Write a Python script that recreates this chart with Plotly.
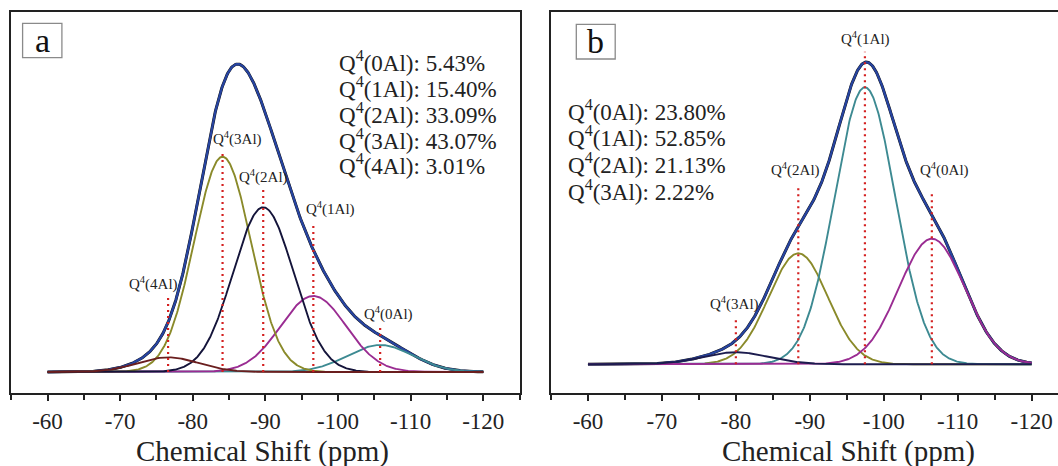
import numpy as np
import plotly.graph_objects as go

W, H = 1058, 466

# ---------------- data ----------------
tick_vals = [-60, -70, -80, -90, -100, -110, -120]
tick_text = ["-60", "-70", "-80", "-90", "-100", "-110", "-120"]
minor_vals = [-55, -65, -75, -85, -95, -105, -115, -125]

# panel a : Gaussian components (centre ppm, height a.u., sigma ppm)
a_names = ["Q<sup>4</sup>(0Al)", "Q<sup>4</sup>(1Al)", "Q<sup>4</sup>(2Al)",
           "Q<sup>4</sup>(3Al)", "Q<sup>4</sup>(4Al)"]
a_pct = ["5.43%", "15.40%", "33.09%", "43.07%", "3.01%"]
a_center = [-105.8, -96.6, -89.7, -84.1, -76.6]
a_height = [27.0, 76.0, 164.7, 215.3, 14.7]
a_sigma = [4.5, 4.5, 4.15, 3.9, 4.2]
a_marker_top = [46, 150, 186, 219, 74]
a_label_x = [-107.0, -98.9, -89.7, -86.1, -74.6]
a_label_y = [58.7, 163, 195.3, 233.7, 89]
a_colors = ["#3d8a92", "#9a2c92", "#14143a", "#8a8a2a", "#6a1e1e"]

# panel b
b_names = ["Q<sup>4</sup>(0Al)", "Q<sup>4</sup>(1Al)", "Q<sup>4</sup>(2Al)",
           "Q<sup>4</sup>(3Al)"]
b_pct = ["23.80%", "52.85%", "21.13%", "2.22%"]
b_center = [-106.5, -97.45, -88.44, -80.0]
b_height = [125.6, 277.0, 111.0, 12.0]
b_sigma = [4.47, 4.1, 4.0, 4.5]
b_marker_top = [172, 312.6, 178.6, 46]
b_label_x = [-108.2, -97.5, -88.1, -79.8]
b_label_y = [194.3, 325.3, 194.3, 61]
b_colors = ["#9a2c92", "#3d8a92", "#8a8a2a", "#1c1c4e"]

# ---------------- helpers ----------------
ppm = np.linspace(-60, -120, 721)
FONT = "Liberation Serif"
INK = "#222222"


def gauss(c, h, s):
    return h * np.exp(-((ppm - c) ** 2) / (2 * s * s))


def px(x):
    return x / W


def py(y):
    return 1 - y / H


fig = go.Figure()


def add_panel(xa, ya, centers, heights, sigmas, colors, tops, order):
    comps = [gauss(c, h, s) for c, h, s in zip(centers, heights, sigmas)]
    total = np.sum(comps, axis=0)
    fig.add_trace(go.Scatter(x=ppm, y=total, mode="lines", xaxis=xa, yaxis=ya,
                             line=dict(color="#111111", width=3.0), showlegend=False))
    fig.add_trace(go.Scatter(x=ppm, y=total, mode="lines", xaxis=xa, yaxis=ya,
                             line=dict(color="#2744a0", width=2.3), showlegend=False))
    for i in order:
        fig.add_trace(go.Scatter(x=ppm, y=comps[i], mode="lines", xaxis=xa, yaxis=ya,
                                 line=dict(color=colors[i], width=1.9), showlegend=False))
    for c, t in zip(centers, tops):
        fig.add_trace(go.Scatter(x=[c, c], y=[0, t], mode="lines", xaxis=xa, yaxis=ya,
                                 line=dict(color="#d42020", width=2.2, dash="2px,4px"),
                                 showlegend=False))


add_panel("x", "y", a_center, a_height, a_sigma, a_colors, a_marker_top, [0, 1, 3, 2, 4])
add_panel("x2", "y2", b_center, b_height, b_sigma, b_colors, b_marker_top, [2, 1, 0, 3])

ydom = [py(393), py(12)]
xcommon = dict(
    showline=True, linecolor=INK, linewidth=2, mirror=True,
    ticks="outside", ticklen=6, tickwidth=1.5, tickcolor=INK,
    tickmode="array", tickvals=tick_vals, ticktext=tick_text,
    tickfont=dict(family=FONT, size=23, color=INK),
    minor=dict(tickmode="array", tickvals=minor_vals, ticks="outside",
               ticklen=5, tickwidth=1.5, tickcolor=INK),
    showgrid=False, zeroline=False,
)
ycommon = dict(showline=True, linecolor=INK, linewidth=2, ticks="",
               showticklabels=False, showgrid=False, zeroline=False, domain=ydom)

fig.update_layout(
    width=W, height=H, margin=dict(l=0, r=0, t=0, b=0),
    paper_bgcolor="white", plot_bgcolor="white",
    xaxis=dict(xcommon, domain=[px(11.2), px(519.6)], range=[-55, -125], anchor="y"),
    yaxis=dict(ycommon, mirror=True, range=[-21, 360], anchor="x"),
    xaxis2=dict(xcommon, domain=[px(551), 1.0], range=[-55, -123.56], anchor="y2"),
    yaxis2=dict(ycommon, mirror=False, range=[-28.7, 352.3], anchor="x2"),
)

ann = []
# peak labels
for n, x, y in zip(a_names, a_label_x, a_label_y):
    ann.append(dict(x=x, y=y, xref="x", yref="y", text=n, showarrow=False,
                    font=dict(family=FONT, size=15, color=INK)))
for n, x, y in zip(b_names, b_label_x, b_label_y):
    ann.append(dict(x=x, y=y, xref="x2", yref="y2", text=n, showarrow=False,
                    font=dict(family=FONT, size=15, color=INK)))
# percentage tables
a_rows = [61.7, 87.3, 113.3, 139.3, 165.0]
for n, p, r in zip(a_names, a_pct, a_rows):
    ann.append(dict(x=px(337), y=py(r), xref="paper", yref="paper", text=f"{n}: {p}",
                    showarrow=False, xanchor="left", yanchor="middle",
                    font=dict(family=FONT, size=23, color=INK)))
b_rows = [110.0, 136.7, 163.3, 190.0]
for n, p, r in zip(b_names, b_pct, b_rows):
    ann.append(dict(x=px(566), y=py(r), xref="paper", yref="paper", text=f"{n}: {p}",
                    showarrow=False, xanchor="left", yanchor="middle",
                    font=dict(family=FONT, size=23, color=INK)))
# axis titles
for cx in (262, 848):
    ann.append(dict(x=px(cx), y=py(451), xref="paper", yref="paper",
                    text="Chemical Shift (ppm)", showarrow=False,
                    xanchor="center", yanchor="middle", borderpad=0,
                    font=dict(family=FONT, size=29, color=INK)))
# panel letters
shapes = []
for letter, (x0, x1, y0, y1) in (("a", (22.6, 61.9, 23.3, 57.7)), ("b", (576.3, 615.2, 24.3, 59.0))):
    shapes.append(dict(type="rect", xref="paper", yref="paper",
                       x0=px(x0), x1=px(x1), y0=py(y1), y1=py(y0),
                       line=dict(color="#8a8a8a", width=1.3)))
    ann.append(dict(x=px((x0 + x1) / 2), y=py((y0 + y1) / 2), xref="paper", yref="paper",
                    text=letter, showarrow=False, xanchor="center", yanchor="middle",
                    font=dict(family=FONT, size=34, color="#111111")))

fig.update_layout(annotations=ann, shapes=shapes)
fig.write_html("out.html")
